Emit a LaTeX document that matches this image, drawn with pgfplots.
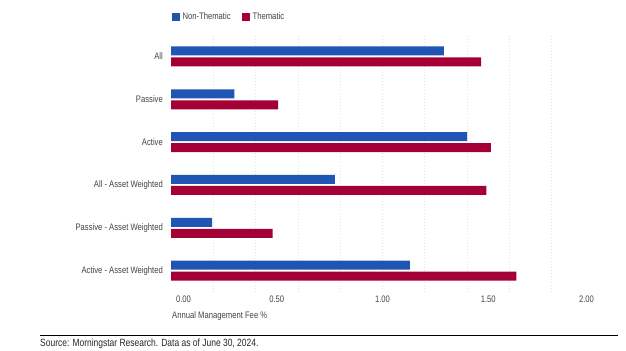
\documentclass[border=0pt]{standalone}
\usepackage{pgfplots}
\pgfplotsset{compat=1.18}
\usepackage{fontspec}
\setmainfont{Liberation Sans}[FakeStretch=0.81]
\definecolor{nonthem}{HTML}{1F55B3}
\definecolor{them}{HTML}{A50036}
\definecolor{lbl}{HTML}{444444}
\definecolor{gridc}{HTML}{E3E3E3}
\begin{document}
\begin{tikzpicture}
\path[use as bounding box] (0,0) rectangle (626bp,351bp);
\begin{axis}[
  at={(171bp,59bp)}, anchor=south west,
  scale only axis, width=423bp, height=257bp,
  xmin=0, xmax=2, ymin=-0.5, ymax=5.5,
  clip=false,
  axis line style={draw=none},
  major tick length=0pt, minor tick length=0pt,
  xtick={0,0.5,1,1.5,2},
  xticklabels={\makebox[0pt][l]{\hspace{5bp}0.00},0.50,1.00,1.50,\makebox[0pt][r]{2.00}},
  xticklabel style={font=\fontsize{9.5}{11}\selectfont, text=lbl, anchor=north, inner sep=0pt, yshift=-4bp},
  extra x ticks={0.2,0.4,0.6,0.8,1.0,1.2,1.4,1.6,1.8},
  extra x tick labels={},
  extra x tick style={xmajorgrids=true, major grid style={gridc, line width=0.7bp, dash pattern=on 1bp off 2bp}},
  ytick={0,1,2,3,4,5},
  yticklabels={Active - Asset Weighted, Passive - Asset Weighted, All - Asset Weighted, Active, Passive, All},
  yticklabel style={font=\fontsize{9.5}{11}\selectfont, text=lbl, anchor=east, inner sep=0pt, xshift=-8bp},
  xbar, bar width=9bp,
  legend style={draw=none, fill=none, at={(rel axis cs:0,1)}, anchor=west, xshift=1bp, yshift=18.5bp,
    legend columns=2, inner sep=0pt, outer sep=0pt,
    font=\fontsize{9.5}{11}\selectfont, text=lbl,
    nodes={inner sep=2.5bp},
    /tikz/every even column/.append style={column sep=9bp}},
  legend cell align=left,
]
\addplot[fill=nonthem, draw=none, bar shift=5.5bp,
  legend image code/.code={\fill[nonthem] (0bp,-4bp) rectangle (8bp,4bp);}]
  coordinates {(1.29,5) (0.30,4) (1.40,3) (0.775,2) (0.195,1) (1.13,0)};
\addlegendentry{Non-Thematic}
\addplot[fill=them, draw=none, bar shift=-5.5bp,
  legend image code/.code={\fill[them] (0bp,-4bp) rectangle (8bp,4bp);}]
  coordinates {(1.466,5) (0.506,4) (1.512,3) (1.491,2) (0.481,1) (1.633,0)};
\addlegendentry{Thematic}
\node[anchor=west, inner sep=0pt, xshift=1bp, yshift=-24bp, font=\fontsize{9.5}{11}\selectfont, text=lbl] at (rel axis cs:0,0) {Annual Management Fee \%};
\end{axis}
\draw[black, line width=0.9bp] (40bp,15.5bp) -- (618bp,15.5bp);
\node[anchor=base west, inner sep=0pt, font=\fontsize{10.5}{12}\selectfont, text=black!85] at (40bp,5bp) {Source: Morningstar Research. Data as of June 30, 2024.};
\end{tikzpicture}
\end{document}
